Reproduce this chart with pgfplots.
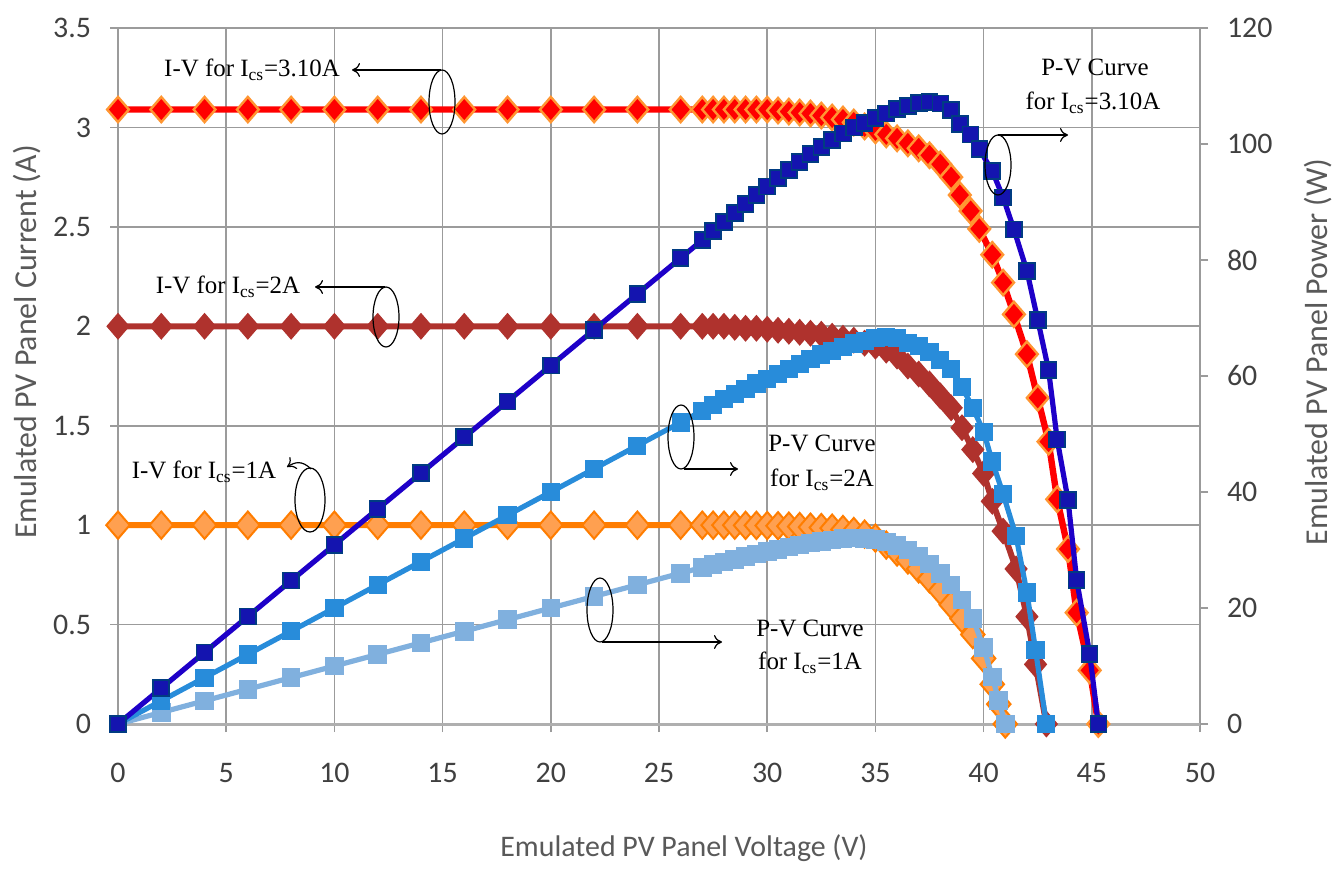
\documentclass[border=0pt]{standalone}
\usepackage{fontspec}
\setmainfont{Liberation Serif}
\newfontfamily\calibri{Carlito}
\usepackage{pgfplots}
\pgfplotsset{compat=1.18}
\usetikzlibrary{arrows.meta}

\definecolor{cRed}{RGB}{255,0,0}
\definecolor{cRedEdge}{RGB}{255,150,50}
\definecolor{cBrown}{RGB}{175,50,45}
\definecolor{cOrange}{RGB}{255,125,0}
\definecolor{cOrangeFill}{RGB}{255,160,80}
\definecolor{cDBlue}{RGB}{30,0,200}
\definecolor{cDBlueFill}{RGB}{20,20,175}
\definecolor{cDBlueEdge}{RGB}{0,60,130}
\definecolor{cMBlue}{RGB}{40,140,218}
\definecolor{cLBlue}{RGB}{128,176,222}
\definecolor{cGrid}{RGB}{155,155,155}
\definecolor{cTick}{RGB}{64,64,64}
\definecolor{cTitle}{RGB}{89,89,89}

\begin{document}
\begin{tikzpicture}
\begin{scope}[x=0.5bp,y=-0.5bp,shift={(-59bp,362bp)}]
\path[use as bounding box] (0,0) rectangle (1341,863);
\end{scope}

\begin{axis}[
  at={(0,0)}, anchor=south west,
  scale only axis, width=541bp, height=348bp,
  xmin=0, xmax=50, ymin=0, ymax=3.5,
  xtick={0,5,...,50}, ytick={0,0.5,...,3.5},
  grid=major, major grid style={cGrid, line width=0.8bp},
  axis line style={draw=none},
  tick pos=left, tick align=outside, major tick length=4bp,
  tick style={cGrid, line width=0.8bp},
  ticklabel style={font=\calibri\fontsize{15}{18}\selectfont, text=cTick},
  /pgf/number format/assume math mode=true,
  xticklabel style={yshift=-12bp},
  yticklabel style={xshift=-6bp},
  clip=false,
]
\draw[cGrid!80, line width=1.5bp] (axis cs:0,0) -- (axis cs:50,0);
% I-V for Ics = 1 A
\addplot[cOrange, line width=3bp, mark=diamond*, mark size=6.8bp,
  mark options={fill=cOrangeFill, draw=cOrange, line width=1bp, xscale=1.15}]
coordinates {
(0,1.0)(2,1.0)(4,1.0)(6,1.0)(8,1.0)(10,1.0)(12,1.0)(14,1.0)(16,1.0)(18,1.0)(20,1.0)(22,1.0)(24,1.0)(26,1.0)
(27,1.0)(27.5,1.0)(28,1.0)(28.5,1.0)(29,0.999)(29.5,0.999)(30,0.998)(30.5,0.997)(31,0.995)(31.5,0.993)(32,0.99)(32.5,0.988)
(33,0.985)(33.5,0.978)(34,0.968)(34.5,0.955)(35,0.935)(35.5,0.9)(36,0.865)(36.5,0.825)(37,0.78)(37.5,0.73)(38,0.67)(38.5,0.6)
(39,0.53)(39.5,0.45)(40,0.33)(40.4,0.2)(40.7,0.1)(41.0,0)
};
% I-V for Ics = 2 A
\addplot[cBrown, line width=3bp, mark=diamond*, mark size=6.3bp,
  mark options={fill=cBrown, draw=cBrown, line width=0.6bp, xscale=1.15}]
coordinates {
(0,2.0)(2,2.0)(4,2.0)(6,2.0)(8,2.0)(10,2.0)(12,2.0)(14,2.0)(16,2.0)(18,2.0)(20,2.0)(22,2.0)(24,2.0)(26,2.0)
(27,2.0)(27.5,2.0)(28,2.0)(28.5,1.995)(29,1.99)(29.5,1.99)(30,1.985)(30.5,1.98)(31,1.975)(31.5,1.97)(32,1.965)(32.5,1.96)
(33,1.95)(33.5,1.94)(34,1.93)(34.5,1.915)(35,1.90)(35.5,1.88)(36,1.85)(36.5,1.80)(37,1.76)(37.5,1.71)(38,1.65)(38.5,1.59)
(39,1.49)(39.5,1.38)(40,1.26)(40.4,1.12)(40.9,0.97)(41.5,0.78)(42.0,0.54)(42.4,0.30)(42.9,0)
};
% I-V for Ics = 3.10 A
\addplot[cRed, line width=3.2bp, mark=diamond*, mark size=6.3bp,
  mark options={fill=cRed, draw=cRedEdge, line width=1.2bp, xscale=1.15}]
coordinates {
(0,3.09)(2,3.09)(4,3.09)(6,3.09)(8,3.09)(10,3.09)(12,3.09)(14,3.09)(16,3.09)(18,3.09)(20,3.09)(22,3.09)(24,3.09)(26,3.09)
(27,3.09)(27.5,3.09)(28,3.09)(28.5,3.09)(29,3.09)(29.5,3.09)(30,3.09)(30.5,3.085)(31,3.08)(31.5,3.075)(32,3.07)(32.5,3.06)
(33,3.05)(33.5,3.04)(34,3.025)(34.5,3.005)(35,2.985)(35.5,2.965)(36,2.945)(36.5,2.92)(37,2.895)(37.5,2.86)(38,2.815)(38.5,2.75)
(38.9,2.66)(39.4,2.58)(39.8,2.49)(40.4,2.36)(40.9,2.22)(41.4,2.06)(42.0,1.86)(42.5,1.64)(43.0,1.42)(43.4,1.13)(43.9,0.88)
(44.3,0.56)(44.9,0.27)(45.3,0)
};
\end{axis}

\begin{axis}[
  at={(0,0)}, anchor=south west,
  scale only axis, width=541bp, height=348bp,
  xmin=0, xmax=50, ymin=0, ymax=120,
  ytick={0,20,...,120},
  axis x line=none, axis y line*=right,
  axis line style={draw=none},
  tick align=outside, major tick length=4bp,
  tick style={cGrid, line width=0.8bp},
  ticklabel style={font=\calibri\fontsize{15}{18}\selectfont, text=cTick},
  /pgf/number format/assume math mode=true,
  yticklabel style={xshift=6bp},
  clip=false,
]
% P-V for Ics = 1 A
\addplot[cLBlue, line width=2.6bp, mark=square*, mark size=4.4bp,
  mark options={fill=cLBlue, draw=cLBlue, line width=0.5bp}]
coordinates {
(0,0)(2,2)(4,4)(6,6)(8,8)(10,10)(12,12)(14,14)(16,16)(18,18)(20,20)(22,22)(24,24)(26,26)
(27,27)(27.5,27.5)(28,27.95)(28.5,28.4)(29,28.85)(29.5,29.3)(30,29.7)(30.5,30.1)(31,30.5)(31.5,30.85)(32,31.2)(32.5,31.5)
(33,31.75)(33.5,31.95)(34,32.05)(34.5,32.0)(35,31.8)(35.5,31.4)(36,30.8)(36.5,30.0)(37,28.9)(37.5,27.6)(38,26.0)(38.5,24.0)
(39,21.4)(39.5,18.2)(40,13.2)(40.4,8.1)(40.7,4.1)(41.0,0)
};
% P-V for Ics = 2 A
\addplot[cMBlue, line width=2.6bp, mark=square*, mark size=4.3bp,
  mark options={fill=cMBlue, draw=cMBlue, line width=0.5bp}]
coordinates {
(0,0)(2,4)(4,8)(6,12)(8,16)(10,20)(12,24)(14,28)(16,32)(18,36)(20,40)(22,44)(24,48)(26,52)
(27,54.0)(27.5,55.0)(28,56.0)(28.5,56.86)(29,57.71)(29.5,58.71)(30,59.55)(30.5,60.39)(31,61.23)(31.5,62.06)(32,62.88)(32.5,63.7)
(33,64.35)(33.5,64.99)(34,65.62)(34.5,66.07)(35,66.5)(35.5,66.74)(36,66.6)(36.5,65.7)(37,65.12)(37.5,64.13)(38,62.7)(38.5,61.22)
(39,58.11)(39.5,54.51)(40,50.4)(40.4,45.25)(40.9,39.67)(41.5,32.37)(42.0,22.68)(42.4,12.72)(42.9,0)
};
% P-V for Ics = 3.10 A
\addplot[cDBlue, line width=2.6bp, mark=square*, mark size=4bp,
  mark options={fill=cDBlueFill, draw=cDBlueEdge, line width=0.8bp}]
coordinates {
(0,0)(2,6.18)(4,12.36)(6,18.54)(8,24.72)(10,30.9)(12,37.08)(14,43.26)(16,49.44)(18,55.62)(20,61.8)(22,67.98)(24,74.16)(26,80.34)
(27,83.43)(27.5,84.98)(28,86.52)(28.5,88.07)(29,89.61)(29.5,91.16)(30,92.7)(30.5,94.09)(31,95.48)(31.5,96.86)(32,98.24)(32.5,99.45)
(33,100.65)(33.5,101.84)(34,102.85)(34.5,103.67)(35,104.48)(35.5,105.26)(36,106.02)(36.5,106.58)(37,107.12)(37.5,107.25)(38,106.97)(38.5,105.88)
(38.9,103.47)(39.4,101.65)(39.8,99.10)(40.4,95.34)(40.9,90.80)(41.4,85.28)(42.0,78.12)(42.5,69.70)(43.0,61.06)(43.4,49.04)(43.9,38.63)
(44.3,24.81)(44.9,12.12)(45.3,0)
};
\end{axis}

\begin{scope}[x=0.5bp,y=-0.5bp,shift={(-59bp,362bp)},
  ann/.style={font=\fontsize{12.5}{15}\selectfont, text=black, inner sep=0pt},
  arr/.style={line width=0.6bp, -{To[length=4bp,width=7bp]}},
  ell/.style={line width=0.6bp}]
% axis titles
\node[font=\calibri\fontsize{15}{18}\selectfont, text=cTitle] at (684,848) {Emulated PV Panel Voltage (V)};
\node[font=\calibri\fontsize{16}{19}\selectfont, text=cTitle, rotate=90] at (27,342) {Emulated PV Panel Current (A)};
\node[font=\calibri\fontsize{16}{19}\selectfont, text=cTitle, rotate=90] at (1318,352) {Emulated PV Panel Power (W)};
% I-V 3.10 A
\node[ann] at (252,70) {I-V for I\textsubscript{cs}=3.10A};
\draw[arr] (441,70) -- (352,70);
\draw[ell] (442,102) ellipse [x radius=6.5bp, y radius=16bp];
% I-V 2 A
\node[ann] at (228,287) {I-V for I\textsubscript{cs}=2A};
\draw[arr] (385,287) -- (315,287);
\draw[ell] (386,317) ellipse [x radius=6.5bp, y radius=15bp];
% I-V 1 A
\node[ann] at (204,472) {I-V for I\textsubscript{cs}=1A};
\draw[arr] (311,469) .. controls (302,460) and (295,462) .. (287,467);
\draw[ell] (310,500) ellipse [x radius=7.5bp, y radius=16bp];
% P-V 3.10 A
\node[ann] at (1095,67) {P-V Curve};
\node[ann] at (1093,103) {for I\textsubscript{cs}=3.10A};
\draw[ell] (998,165) ellipse [x radius=6.5bp, y radius=15bp];
\draw[arr] (998,135) -- (1068,135);
% P-V 2 A
\node[ann] at (822,443) {P-V Curve};
\node[ann] at (822,480) {for I\textsubscript{cs}=2A};
\draw[ell] (681,437) ellipse [x radius=6.5bp, y radius=16bp];
\draw[arr] (684,469) -- (738,469);
% P-V 1 A
\node[ann] at (810,628) {P-V Curve};
\node[ann] at (810,663) {for I\textsubscript{cs}=1A};
\draw[ell] (600,610) ellipse [x radius=6.5bp, y radius=16bp];
\draw[arr] (602,642) -- (722,642);
\end{scope}
\end{tikzpicture}
\end{document}
